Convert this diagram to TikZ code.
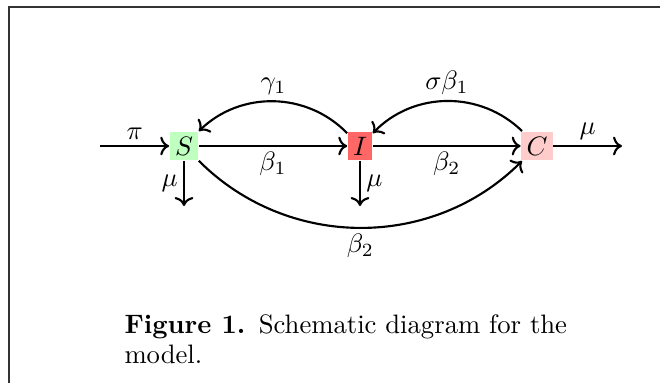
\documentclass[tikz,border=0pt]{standalone}
\usetikzlibrary{arrows.meta}
\begin{document}
\begin{tikzpicture}[x=0.375pt,y=-0.375pt,
  comp/.style={inner sep=2pt, minimum height=9.8pt},
  flow/.style={->, thick},
  lab/.style={inner sep=2pt}]
\useasboundingbox (0,0) rectangle (660,383);
\draw[line width=0.4pt, black!80] (660,7) -- (9,7) -- (9,383);
\node[comp, fill=green!25] (S) at (184,146) {$S$};
\node[comp, fill=red!60] (I) at (360,146) {$I$};
\node[comp, fill=red!20] (C) at (537,146) {$C$};
\coordinate (in) at (100,146);
\coordinate (out) at (622,146);
\coordinate (Sd) at (184,206);
\coordinate (Id) at (360,206);
\draw[flow] (in) -- node[above, lab] {$\pi$} (S);
\draw[flow] (S) -- node[below, lab] {$\beta_1$} (I);
\draw[flow] (I) -- node[below, lab] {$\beta_2$} (C);
\draw[flow] (C) -- node[above, lab] {$\mu$} (out);
\draw[flow] (S) -- node[left, lab] {$\mu$} (Sd);
\draw[flow] (I) -- node[right, lab] {$\mu$} (Id);
\draw[flow] (I) to[bend right=45] node[above, lab] {$\gamma_1$} (S);
\draw[flow] (C) to[bend right=45] node[above, lab] {$\sigma\beta_1$} (I);
\draw[flow] (S) to[bend right=45] node[below, lab] {$\beta_2$} (C);
\node[anchor=north west, align=left, inner sep=0pt, font={\fontsize{10pt}{11.3pt}\selectfont}] (cap) at (124,314)
  {\textbf{Figure 1.}\enspace Schematic diagram for the\\model.};
\end{tikzpicture}
\end{document}
